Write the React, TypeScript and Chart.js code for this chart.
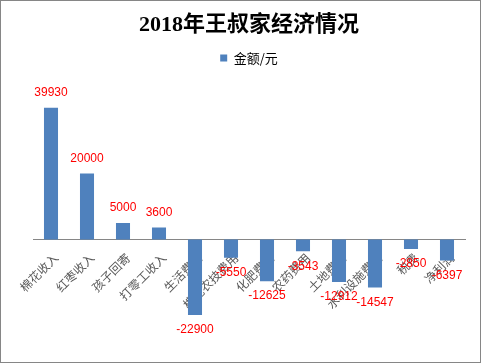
import React, { useEffect, useRef } from 'react';
import { Chart, registerables } from 'chart.js';

Chart.register(...registerables);

const chartTitle = '2018年王叔家经济情况';
const seriesName = '金额/元';
const categories = ['棉花收入', '红枣收入', '孩子回寄', '打零工收入', '生活费用', '棉花农技费用', '化肥费用', '农药费用', '土地费用', '水利设施费用', '税费', '净利润'];
const amounts = [39930, 20000, 5000, 3600, -22900, -5550, -12625, -3543, -12912, -14547, -2850, -6397];
const yMin = -30000;
const yMax = 50000;

const CJK = '"Noto Sans CJK SC", sans-serif';

const valueLabels = {
  id: 'valueLabels',
  afterDraw(chart: any) {
    const ctx = chart.ctx;
    const meta = chart.getDatasetMeta(0);
    ctx.save();
    ctx.font = '12px "Liberation Sans", Arial, sans-serif';
    ctx.fillStyle = '#FF0000';
    ctx.textAlign = 'center';
    ctx.textBaseline = 'middle';
    meta.data.forEach((bar: any, i: number) => {
      const v = amounts[i];
      const { x, y } = bar.getProps(['x', 'y'], true);
      ctx.fillText(String(v), x, v >= 0 ? y - 15 : y + 15);
    });
    ctx.restore();
  },
};

export default function App() {
  const ref = useRef<HTMLCanvasElement>(null);
  useEffect(() => {
    if (!ref.current) return;
    const chart = new Chart(ref.current, {
      type: 'bar',
      data: {
        labels: categories,
        datasets: [
          {
            label: seriesName,
            data: amounts,
            backgroundColor: '#4F81BD',
            borderWidth: 0,
            barPercentage: 0.39,
            categoryPercentage: 1,
          },
        ],
      },
      options: {
        animation: false,
        responsive: false,
        devicePixelRatio: 1,
        layout: { padding: { left: 32, right: 15, top: 0, bottom: 23.5 } },
        plugins: {
          title: {
            display: true,
            text: chartTitle,
            color: '#000000',
            font: { family: '"Liberation Serif", "Noto Sans CJK SC", serif', size: 22, weight: 'bold' },
            padding: { top: 10.8, bottom: 4.8 },
          },
          legend: {
            display: true,
            position: 'top',
            labels: {
              boxWidth: 7,
              boxHeight: 7,
              padding: 8.5,
              color: '#000000',
              font: { family: CJK, size: 13 },
            },
          },
          tooltip: { enabled: false },
        },
        scales: {
          x: {
            position: { y: 0 } as any,
            z: 1,
            grid: { display: false, drawTicks: false },
            border: { display: true, color: '#868686', width: 1 },
            ticks: {
              autoSkip: false,
              minRotation: 45,
              maxRotation: 45,
              color: '#595959',
              font: { family: CJK, size: 12 },
              padding: 11,
              labelOffset: 5,
            },
            afterFit: (s: any) => {
              s.height = 0;
            },
          },
          y: { display: false, min: yMin, max: yMax },
        },
      },
      plugins: [valueLabels],
    } as any);
    return () => chart.destroy();
  }, []);
  return (
    <div
      style={{
        position: 'absolute',
        left: 0,
        top: 0,
        width: 481,
        height: 363,
        boxSizing: 'border-box',
        border: '1px solid #868686',
        background: '#ffffff',
      }}
    >
      <canvas ref={ref} width={479} height={361} style={{ display: 'block', width: 479, height: 361 }} />
    </div>
  );
}
